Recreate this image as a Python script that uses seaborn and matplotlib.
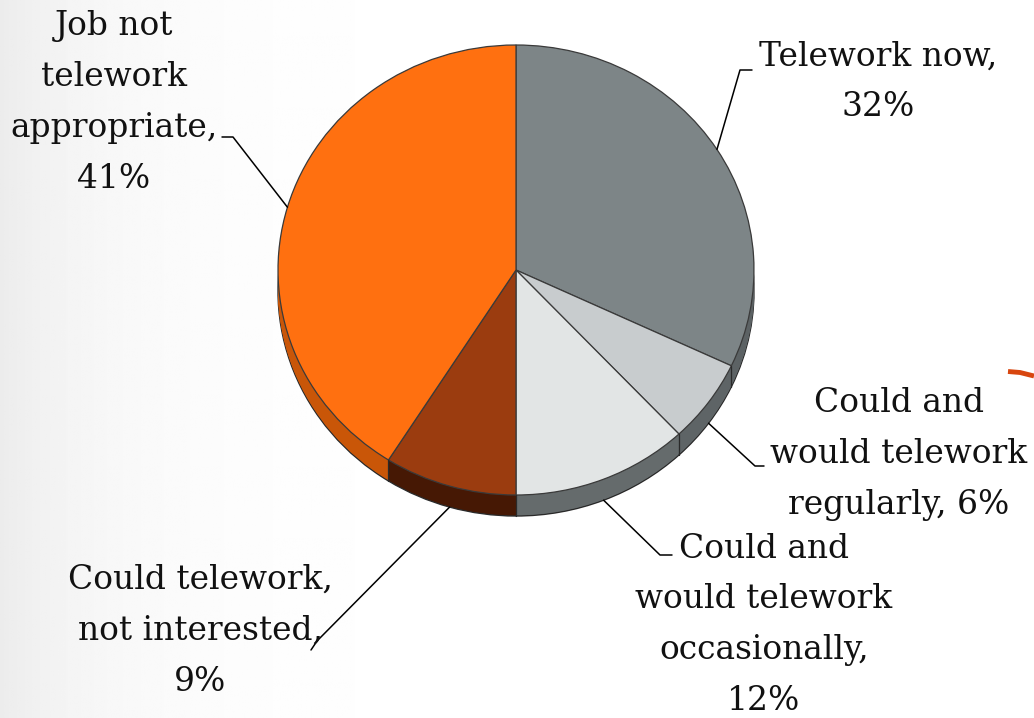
import numpy as np
import matplotlib
matplotlib.use('Agg')
import matplotlib.pyplot as plt
import seaborn as sns

labels = ['Telework now,\n32%',
          'Could and\nwould telework\nregularly, 6%',
          'Could and\nwould telework\noccasionally,\n12%',
          'Could telework,\nnot interested,\n9%',
          'Job not\ntelework\nappropriate,\n41%']
shares = [32, 6, 12, 9, 41]
top_colors = ['#7D8587', '#C8CCCE', '#E2E5E5', '#9B3C0F', '#FF7010']
side_colors = ['#5C6264', '#5E6466', '#656B6C', '#461804', '#C95608']

sns.set_theme(style='white')
plt.rcParams['font.family'] = ['DejaVu Serif']

W, H = 1034, 718
CX, CY, RX, RY = 516, 270, 238, 225
DEPTH = 21 / RY


def px(x, y):
    # pixel position -> pie data coords
    return (x - CX) / RX, (CY - y) / RY


fig = plt.figure(figsize=(W / 100, H / 100), dpi=100)

# faint grey wash on the left edge, like the slide background
bg = fig.add_axes([0, 0, 1, 1])
xs = np.linspace(0, W, 400)
shade = 1 - 0.075 * np.exp(-xs / 120)
bg.imshow(np.tile(shade, (10, 1)), cmap='gray', vmin=0, vmax=1,
          aspect='auto', extent=(0, W, H, 0))
bg.axis('off')

ax = fig.add_axes([0, 0, 1, 1])
ax.set_facecolor('none')

# side wall of the 3d pie: stacked copies shifted down
layers = 24
ax.pie(shares, colors=side_colors, startangle=90, counterclock=False,
       center=(0, -DEPTH),
       wedgeprops=dict(edgecolor='#2a2a2a', linewidth=1.0))
for k in range(layers - 1, 0, -1):
    ax.pie(shares, colors=side_colors, startangle=90, counterclock=False,
           center=(0, -DEPTH * k / layers), wedgeprops=dict(linewidth=0))

# seams on the side wall where slices meet
bounds = 90 - 3.6 * np.cumsum([0] + shares)
for a in np.radians(bounds):
    if np.sin(a) < -0.05:
        ax.plot([np.cos(a)] * 2, [np.sin(a), np.sin(a) - DEPTH],
                color='#2a2a2a', lw=0.9)

# top face
ax.pie(shares, colors=top_colors, startangle=90, counterclock=False,
       wedgeprops=dict(edgecolor='#3a3a3a', linewidth=0.9))

ax.set_aspect('auto')
ax.set_xlim(px(0, 0)[0], px(W, 0)[0])
ax.set_ylim(px(0, H)[1], px(0, 0)[1])
ax.axis('off')

# label boxes (pixel centres) and leader line bends
label_pos = [(878, 82), (899, 454), (764, 625), (200, 631), (114, 102)]
leader_bends = [
    [(740, 70), (752, 70)],
    [(755, 466), (764, 466)],
    [(660, 555), (672, 555)],
    [(317, 641), (311, 650)],
    [(233, 137), (222, 137)],
]

cum = np.cumsum([0] + shares)
for i, lab in enumerate(labels):
    mid = np.radians(90 - 3.6 * (cum[i] + shares[i] / 2))
    x0, y0 = np.cos(mid), np.sin(mid)
    if y0 < -0.2:
        y0 -= DEPTH
    pts = [(x0, y0)] + [px(*p) for p in leader_bends[i]]
    ax.plot([p[0] for p in pts], [p[1] for p in pts], color='black', lw=1.1)
    tx, ty = px(*label_pos[i])
    ax.text(tx, ty, lab, ha='center', va='center', multialignment='center',
            fontsize=23.7, linespacing=1.76, color='#111111')

# bit of the slide's orange swoosh at the right edge
sx = np.array([1008, 1020, 1034])
sy = np.array([371.5, 372.5, 376])
ax.plot(*px(sx, sy), color='#D8460F', lw=3.5, solid_capstyle='butt')

fig.savefig('out.png', dpi=100)
